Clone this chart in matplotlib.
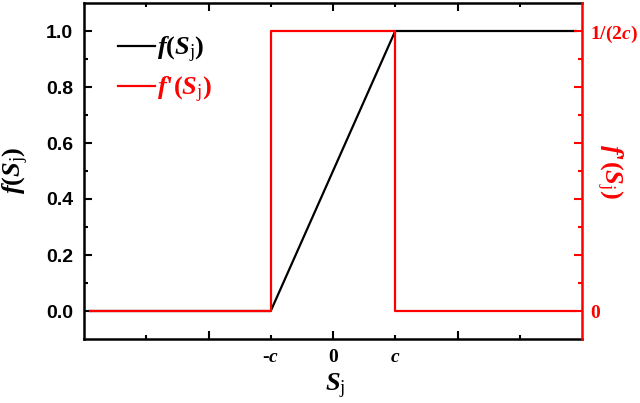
import matplotlib
matplotlib.use("Agg")
import matplotlib.pyplot as plt
from matplotlib.lines import Line2D

plt.rcParams['mathtext.fontset'] = 'custom'
plt.rcParams['mathtext.rm'] = 'Liberation Serif:bold'
plt.rcParams['mathtext.it'] = 'Liberation Serif:italic:bold'
plt.rcParams['mathtext.bf'] = 'Liberation Serif:bold'
plt.rcParams['mathtext.sf'] = 'Liberation Serif'

# data (c = 1)
f_x = [-3.9, -1, 1, 3.9]
f_y = [0, 0, 1, 1]
df_x = [-3.9, -1, -1, 1, 1, 3.9]
df_y = [0, 0, 0.5, 0.5, 0, 0]

x_major = [-2, 0, 2]
x_major_labels = ['', '0', '']
x_minor = [-3, -1, 1, 3]
x_minor_labels = ['', r'-$c$', r'$c$', '']
left_major = [0.0, 0.2, 0.4, 0.6, 0.8, 1.0]
left_minor = [0.1, 0.3, 0.5, 0.7, 0.9]
right_major = [0, 0.1, 0.2, 0.3, 0.4, 0.5]
right_major_labels = ['0', '', '', '', '', r'1/(2$c$)']
right_minor = [0.05, 0.15, 0.25, 0.35, 0.45]

RED = '#ff0000'
fig = plt.figure(figsize=(6.4, 4.03), dpi=100)
ax = fig.add_axes([84/640, 1-339/403, (582-84)/640, (339-3)/403])
ax2 = ax.twinx()

ax.plot(f_x, f_y, color='black', lw=1.6)
ax2.plot(df_x, df_y, color=RED, lw=1.6)

ax.set_xlim(-4, 4)
ax.set_ylim(-0.1, 1.1)
ax2.set_ylim(-0.05, 0.55)

serif_bold = dict(family='Liberation Serif', weight='bold', size=14)
sans_bold = dict(family='Liberation Sans', weight='bold', size=14)

ax.set_xticks(x_major)
ax.set_xticklabels(x_major_labels, fontdict=serif_bold)
ax.set_xticks(x_minor, minor=True)
ax.set_xticklabels(x_minor_labels, minor=True, fontdict=serif_bold)
ax.set_yticks(left_major)
ax.set_yticklabels([f'{v:.1f}' for v in left_major], fontdict=sans_bold)
ax.set_yticks(left_minor, minor=True)

ax.tick_params(which='both', direction='in', top=True, width=1.5)
ax.tick_params(which='major', length=6, pad=8)
ax.tick_params(which='minor', length=3, pad=8)
ax.tick_params(axis='x', which='both', pad=7)

ax2.set_yticks(right_major)
ax2.set_yticklabels(right_major_labels, fontdict=serif_bold, color=RED)
ax2.set_yticks(right_minor, minor=True)
ax2.tick_params(which='both', direction='in', colors=RED, width=1.5)
ax2.tick_params(which='major', length=6, pad=6)
ax2.tick_params(which='minor', length=3)

for s in ['left', 'top', 'bottom']:
    ax.spines[s].set_linewidth(1.8)
    ax2.spines[s].set_visible(False)
ax.spines['right'].set_visible(False)
ax2.spines['right'].set_color(RED)
ax2.spines['right'].set_linewidth(1.8)

label_font = dict(family='Liberation Serif', weight='bold', size=19)
ax.set_xlabel(r'$S_{\mathsf{j}}$', fontdict=label_font)
ax.xaxis.set_label_coords((335-84)/498, -(386-339)/336)
ax.xaxis.label.set_va('center')
ax.set_ylabel(r'$f(S_{\mathsf{j}})$', fontdict=label_font)
ax.yaxis.set_label_coords((16-84)/498, 0.5 + (172-171)/336)
ax.yaxis.label.set_va('center')
ax2.set_ylabel(r"$f$'$(S_{\mathsf{j}})$", fontdict=label_font, color=RED, rotation=270)
ax2.yaxis.set_label_coords((609-84)/498, 0.5)
ax2.yaxis.label.set_va('center')

handles = [Line2D([], [], color='black', lw=1.6), Line2D([], [], color=RED, lw=1.6)]
leg = ax2.legend(handles, [r'$f(S_{\mathsf{j}})$', r"$f$'$(S_{\mathsf{j}})$"],
                 loc='upper left', bbox_to_anchor=(0.02, 0.975), frameon=False,
                 prop=dict(family='Liberation Serif', weight='bold', size=19),
                 handlelength=1.4, handletextpad=0.1, labelspacing=0.35)
leg.get_texts()[1].set_color(RED)

fig.savefig('out.png', dpi=100)
